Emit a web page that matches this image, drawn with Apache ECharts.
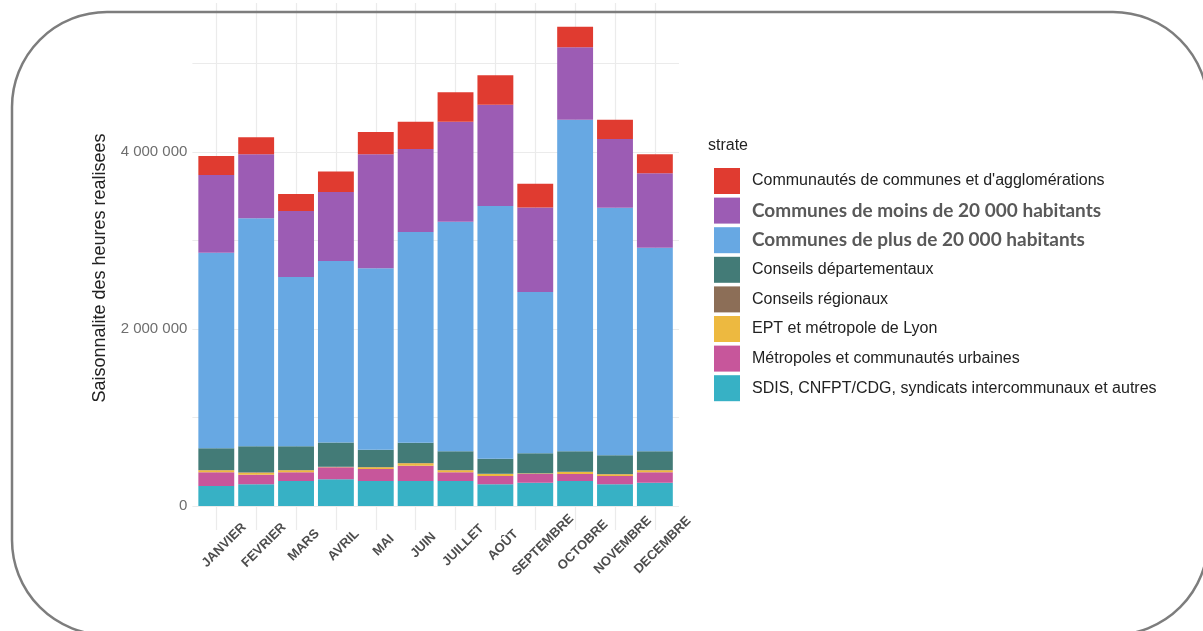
<!DOCTYPE html>
<html>
<head>
<meta charset="utf-8">
<script src="https://cdn.jsdelivr.net/npm/echarts@6/dist/echarts.min.js"></script>
<style>
html,body{margin:0;padding:0;background:#fff;}
#c{width:1203px;height:631px;}
</style>
</head>
<body>
<div id="c"></div>
<script>
const months = ['JANVIER','FEVRIER','MARS','AVRIL','MAI','JUIN','JUILLET','AOÛT','SEPTEMBRE','OCTOBRE','NOVEMBRE','DECEMBRE'];
const yTicks = [0, 2000000, 4000000];

const sdis          = [226000, 245000, 282000, 301000, 282000, 282000, 282000, 245000, 263000, 282000, 245000, 263000];
const metropoles    = [155000, 109000,  99000, 136000, 136000, 173000,  99000,  94000,  99000,  80000,  94000, 118000];
const ept           = [ 22000,  23000,  22000,   4000,  19000,  27000,  22000,  22000,   4000,  22000,  19000,  22000];
const regionaux     = [  4000,   4000,   4000,   3000,   4000,   4000,   4000,   4000,   3000,   4000,   4000,   4000];
const departementaux= [245000, 294000, 268000, 274000, 195000, 230000, 211000, 169000, 228000, 230000, 211000, 211000];
const communesPlus  = [2210000,2576000,1913000,2049000,2050000,2380000,2595000,2856000,1820000,3747000,2798000,2301000];
const communesMoins = [878000, 723000, 745000, 780000,1288000, 938000,1130000,1144000, 956000, 818000, 776000, 840000];
const communautes   = [215000, 192000, 192000, 233000, 252000, 309000, 331000, 332000, 267000, 233000, 218000, 215000];

const names = {
  communautes: "Communautés de communes et d'agglomérations",
  moins: "Communes de moins de 20 000 habitants",
  plus: "Communes de plus de 20 000 habitants",
  dep: "Conseils départementaux",
  reg: "Conseils régionaux",
  ept: "EPT et métropole de Lyon",
  metro: "Métropoles et communautés urbaines",
  sdis: "SDIS, CNFPT/CDG, syndicats intercommunaux et autres"
};

const stackOrder = [
  [names.sdis, sdis, '#37B1C5'],
  [names.metro, metropoles, '#C7569B'],
  [names.ept, ept, '#EDB940'],
  [names.reg, regionaux, '#8C6E57'],
  [names.dep, departementaux, '#437B77'],
  [names.plus, communesPlus, '#67A8E3'],
  [names.moins, communesMoins, '#9C5CB4'],
  [names.communautes, communautes, '#E03B30']
];

const fmt = v => String(v).replace(/\B(?=(\d{3})+(?!\d))/g, ' ');
const font = "'Liberation Sans', Arial, sans-serif";

const chart = echarts.init(document.getElementById('c'), null, {renderer: 'canvas'});
const Y0 = 506, PXM = 88.5;
const yMax = 5500000;
const gTop = Y0 - yMax / 1e6 * PXM;
const band = 39.87;
const firstCenter = 216.3;
const gLeft = firstCenter - band / 2;
const gWidth = band * 12;

const option = {
  animation: false,
  backgroundColor: '#fff',
  grid: [
    {left: gLeft, top: gTop, width: gWidth, bottom: 631 - Y0, containLabel: false},
    {left: 192.4, top: gTop, width: 679 - 192.4, bottom: 631 - Y0, containLabel: false},
    {left: firstCenter, top: 3, width: band * 11, bottom: 631 - 530, containLabel: false}
  ],
  xAxis: [
    {
      type: 'category', gridIndex: 0, data: months,
      axisLine: {show: false}, axisTick: {show: false}, splitLine: {show: false},
      axisLabel: {
        rotate: 45, align: 'center', verticalAlign: 'middle', margin: 47,
        padding: [0, 0, 0, 22], interval: 0,
        fontFamily: font, fontWeight: 'bold', fontSize: 13, color: '#4d4d4d'
      }
    },
    {type: 'value', gridIndex: 1, min: 0, max: 1, show: false},
    {
      type: 'value', gridIndex: 2, min: 0, max: 11, interval: 1,
      axisLine: {show: false}, axisTick: {show: false}, axisLabel: {show: false},
      splitLine: {show: true, showMinLine: true, showMaxLine: true, lineStyle: {color: '#ebebeb', width: 1.2}}
    }
  ],
  yAxis: [
    {
      type: 'value', gridIndex: 0, min: 0, max: yMax, interval: 2000000,
      axisLine: {show: false}, axisTick: {show: false}, splitLine: {show: false},
      axisLabel: {
        showMaxLabel: false, margin: 9, fontFamily: font, fontSize: 15, color: '#6e6e6e',
        formatter: v => yTicks.indexOf(v) >= 0 ? fmt(v) : ''
      }
    },
    {
      type: 'value', gridIndex: 1, min: 0, max: yMax, interval: 1000000,
      axisLine: {show: false}, axisTick: {show: false}, axisLabel: {show: false},
      splitLine: {show: true, showMinLine: true, showMaxLine: false, lineStyle: {color: '#ebebeb', width: 1.2}}
    },
    {type: 'value', gridIndex: 2, min: 0, max: 1, show: false}
  ],
  legend: {
    orient: 'vertical', left: 709, top: 163,
    itemWidth: 26, itemHeight: 26, itemGap: 3.6,
    icon: 'rect',
    selectedMode: false,
    data: [names.communautes, names.moins, names.plus, names.dep, names.reg, names.ept, names.metro, names.sdis],
    formatter: n => (n === names.moins || n === names.plus) ? '{b|' + n + '}' : '{a|' + n + '}',
    textStyle: {
      rich: {
        a: {fontFamily: font, fontSize: 16, color: '#222', padding: [0, 0, 0, 7]},
        b: {fontFamily: "Lato, 'Noto Sans', sans-serif", fontWeight: 'bold', fontSize: 19, color: '#595959', padding: [0, 0, 0, 7]}
      }
    }
  },
  graphic: [
    {
      type: 'text', x: 100, y: 268, rotation: Math.PI / 2, z: 10,
      style: {text: 'Saisonnalite des heures realisees', fontFamily: font, fontSize: 18, fill: '#222', align: 'center', verticalAlign: 'middle'}
    },
    {
      type: 'text', x: 708, y: 146, z: 10,
      style: {text: 'strate', fontFamily: font, fontSize: 16, fill: '#222', align: 'left', verticalAlign: 'middle'}
    },
    {
      type: 'rect', z: 100, silent: true,
      shape: {x: 12, y: 12, width: 1196, height: 623, r: 95},
      style: {fill: 'none', stroke: '#7d7d7d', lineWidth: 2.5}
    }
  ],
  series: stackOrder.map(([name, data, color]) => ({
    name, type: 'bar', stack: 'total', xAxisIndex: 0, yAxisIndex: 0,
    data, barCategoryGap: '10%',
    itemStyle: {color},
    emphasis: {disabled: true}
  }))
};
chart.setOption(option);
</script>
</body>
</html>
